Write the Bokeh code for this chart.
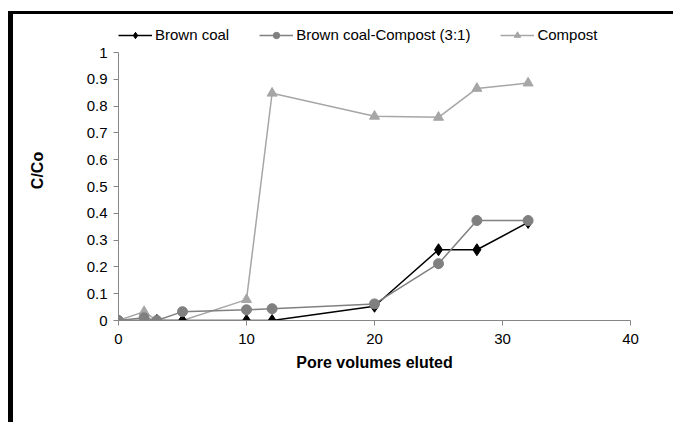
from bokeh.plotting import figure
from bokeh.models import Legend, LegendItem, FixedTicker, Range1d
from bokeh.embed import file_html
from bokeh.resources import INLINE

# Data
pore_volumes = [0, 2, 3, 5, 10, 12, 20, 25, 28, 32]
brown_coal = [0, 0, 0, 0, 0, 0, 0.053, 0.264, 0.264, 0.366]
mixture = [0, 0.01, 0, 0.033, 0.04, 0.044, 0.062, 0.212, 0.373, 0.373]
compost = [0, 0.033, 0, 0, 0.078, 0.848, 0.762, 0.758, 0.866, 0.886]

x_ticks = [0, 10, 20, 30, 40]
y_ticks = [0, 0.1, 0.2, 0.3, 0.4, 0.5, 0.6, 0.7, 0.8, 0.9, 1]

FONT = "Liberation Sans"
AXIS_COL = "#868686"
W, H = 665, 411
TOP, BOTTOM = 6, 105
FRAME_H = H - TOP - BOTTOM          # frame also holds the legend strip above y = 1
PX_PER_UNIT = 268
Y_TOP = FRAME_H / PX_PER_UNIT

p = figure(width=W, height=H, output_backend="svg", toolbar_location=None,
           x_range=Range1d(0, 40), y_range=Range1d(0, Y_TOP),
           min_border_left=105, min_border_right=48, min_border_top=TOP, min_border_bottom=BOTTOM)
p.styles = {"margin-left": "8px", "margin-top": "11px",
            "border-left": "5px solid black", "border-top": "3px solid black"}

p.grid.visible = False
p.outline_line_color = None
p.background_fill_color = "white"
p.border_fill_color = "white"

for ax in (p.xaxis[0], p.yaxis[0]):
    ax.axis_line_color = AXIS_COL
    ax.major_tick_line_color = AXIS_COL
    ax.minor_tick_line_color = None
    ax.major_tick_out = 5
    ax.major_tick_in = 0
    ax.major_label_text_font = FONT
    ax.major_label_text_font_size = "15px"
    ax.major_label_text_color = "black"
    ax.axis_label_text_font = FONT
    ax.axis_label_text_font_size = "16px"
    ax.axis_label_text_font_style = "bold"
    ax.axis_label_text_color = "black"

p.xaxis.ticker = FixedTicker(ticks=x_ticks)
p.yaxis.ticker = FixedTicker(ticks=y_ticks)
p.yaxis.bounds = (0, 1)
p.xaxis.axis_label = "Pore volumes eluted"
p.yaxis.axis_label = "C/Co"
p.xaxis.major_label_standoff = 8
p.yaxis.major_label_standoff = 6
p.yaxis.axis_label_standoff = 38
p.xaxis.axis_label_standoff = 7

l3 = p.line(pore_volumes, compost, line_color="#A6A6A6", line_width=1.5)
s3 = p.scatter(pore_volumes, compost, marker="triangle", size=10, fill_color="#A6A6A6", line_color="#A6A6A6")
l1 = p.line(pore_volumes, brown_coal, line_color="black", line_width=1.5)
s1 = p.scatter(pore_volumes, brown_coal, marker="diamond", size=12, fill_color="black", line_color="black")
l2 = p.line(pore_volumes, mixture, line_color="#808080", line_width=1.5)
s2 = p.scatter(pore_volumes, mixture, marker="circle", size=10, fill_color="#808080", line_color="#808080")

legend = Legend(items=[
    LegendItem(label="Brown coal", renderers=[l1, s1]),
    LegendItem(label="Brown coal-Compost (3:1)", renderers=[l2, s2]),
    LegendItem(label="Compost", renderers=[l3, s3]),
], orientation="horizontal", location=(0, 277))
legend.label_text_font = FONT
legend.label_text_font_size = "15px"
legend.label_text_color = "black"
legend.glyph_width = 34
legend.glyph_height = 16
legend.label_standoff = 3
legend.spacing = 30
legend.padding = 0
legend.margin = 0
legend.border_line_color = None
legend.background_fill_alpha = 0
p.add_layout(legend)

open("out.html", "w").write(file_html(p, INLINE))
